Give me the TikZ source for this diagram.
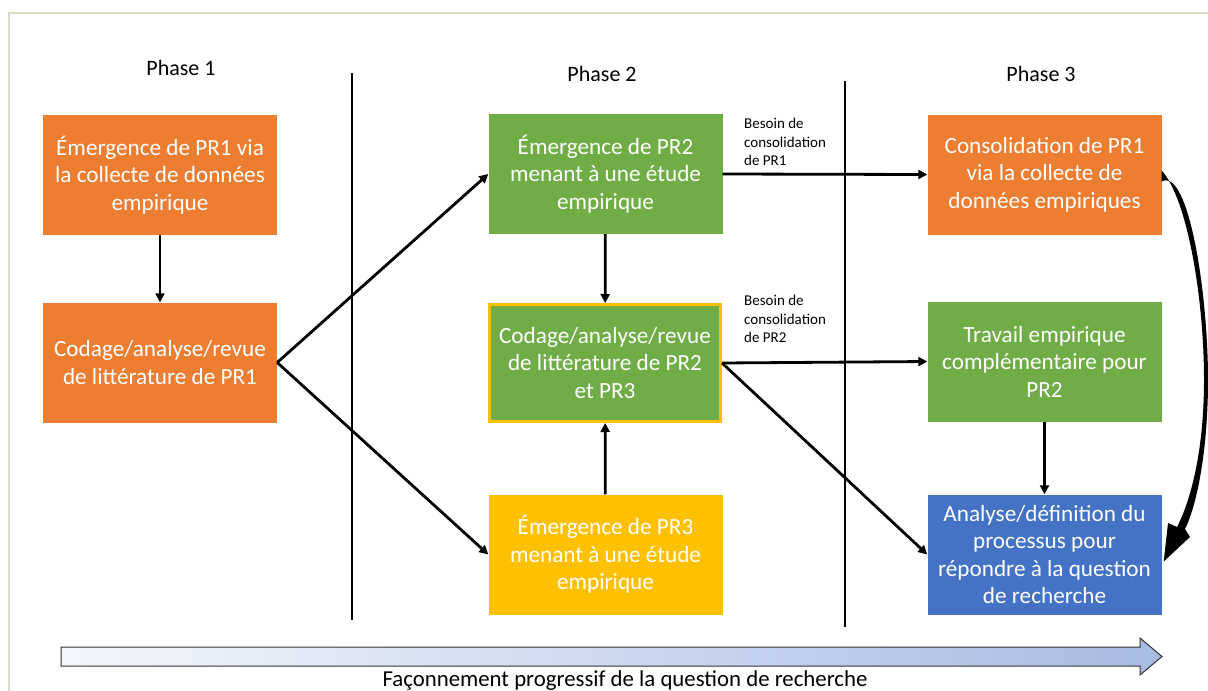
\documentclass[tikz,border=0pt]{standalone}
\usepackage{fontspec}
\setmainfont{Carlito}
\usetikzlibrary{arrows.meta}
\definecolor{cOrange}{HTML}{ED7D31}
\definecolor{cGreen}{HTML}{70AD47}
\definecolor{cYellow}{HTML}{FFC000}
\definecolor{cBlue}{HTML}{4472C4}
\definecolor{cFrame}{HTML}{DDD9C3}
\definecolor{cShadeL}{HTML}{F3F6FB}
\definecolor{cShadeR}{HTML}{A6BBE3}
\begin{document}
\begin{tikzpicture}[x=1pt,y=-1pt,
  box/.style={minimum width=234pt,minimum height=120pt,inner sep=0pt,
    text=white,align=center,font=\fontsize{23.2}{27.5}\selectfont},
  phase/.style={font=\fontsize{22}{26}\selectfont,text=black},
  note/.style={font=\fontsize{15}{18.5}\selectfont,align=left,anchor=north west,inner sep=0pt},
  conn/.style={line width=2.8pt,-{Triangle[length=9pt,width=9pt]}},
  divider/.style={line width=1.5pt}]
\useasboundingbox (0,0) rectangle (1208,691);
% outer frame
\draw[cFrame,line width=2pt] (9,700) -- (9,13) -- (1215,13);

% phase titles
\node[phase] (p1) at (181,68) {Phase 1};
\node[phase] (p2) at (602,74) {Phase 2};
\node[phase] (p3) at (1041,74) {Phase 3};

% phase separators
\draw[divider] (352,73) -- (352,620);
\draw[divider] (845,81) -- (845,627);

% phase 1
\node[box,fill=cOrange] (a1) at (160,175) {Émergence de PR1 via\\la collecte de données\\empirique};
\node[box,fill=cOrange] (a2) at (160,362.5) {Codage/analyse/revue\\de littérature de PR1};

% phase 2
\node[box,fill=cGreen] (b1) at (605.5,174) {Émergence de PR2\\menant à une étude\\empirique};
\node[box,fill=cGreen,draw=cYellow,line width=3pt,minimum width=231pt,minimum height=117pt] (b2) at (605,363) {Codage/analyse/revue\\de littérature de PR2\\et PR3};
\node[box,fill=cYellow] (b3) at (605.5,554.5) {Émergence de PR3\\menant à une étude\\empirique};

% phase 3
\node[box,fill=cOrange] (c1) at (1044.5,174.5) {Consolidation de PR1\\via la collecte de\\données empiriques};
\node[box,fill=cGreen] (c2) at (1044.5,361.5) {Travail empirique\\complémentaire pour\\PR2};
\node[box,fill=cBlue] (c3) at (1044.5,554.5) {Analyse/définition du\\processus pour\\répondre à la question\\de recherche};

% connector notes
\node[note] (n1) at (744,118) {Besoin de\\consolidation\\de PR1};
\node[note] (n2) at (744,295) {Besoin de\\consolidation\\de PR2};

% connectors
\draw[conn] (a1) -- (a2);
\draw[conn] (a2.east) -- (b1.west);
\draw[conn] (a2.east) -- (b3.west);
\draw[conn] (b1) -- (b2);
\draw[conn] (b3) -- (b2);
\draw[conn] (b1.east) -- (c1.west);
\draw[conn] (b2.east) -- (c2.west);
\draw[conn] (b2.east) -- (c3.west);
\draw[conn] (c2) -- (c3);

% curved return arrow from c1 to c3, tapering towards its middle
\coordinate (cs) at ([yshift=-7pt]c1.east);
\coordinate (ce) at ([xshift=2pt,yshift=-7pt]c3.east);
\fill[black] (cs) .. controls (1188,167) and (1208,290) .. (1208,380)
  .. controls (1208,450) and (1197,505) .. (1185,529)
  -- (1190,537) -- (ce) -- (1168,523) -- (1177,527)
  .. controls (1191,500) and (1204,450) .. (1204,380)
  .. controls (1204,300) and (1188,200) .. ([yshift=11pt]cs) -- cycle;

% progress arrow along the bottom
\shade[left color=cShadeL,right color=cShadeR,draw=black!80,line width=1pt]
  (61,647) -- (1140,647) -- (1140,638) -- (1162,656.5) -- (1140,675) -- (1140,666) -- (61,666) -- cycle;
\node[font=\fontsize{22.8}{26}\selectfont] (prog) at (625,681) {Façonnement progressif de la question de recherche};
\end{tikzpicture}
\end{document}
